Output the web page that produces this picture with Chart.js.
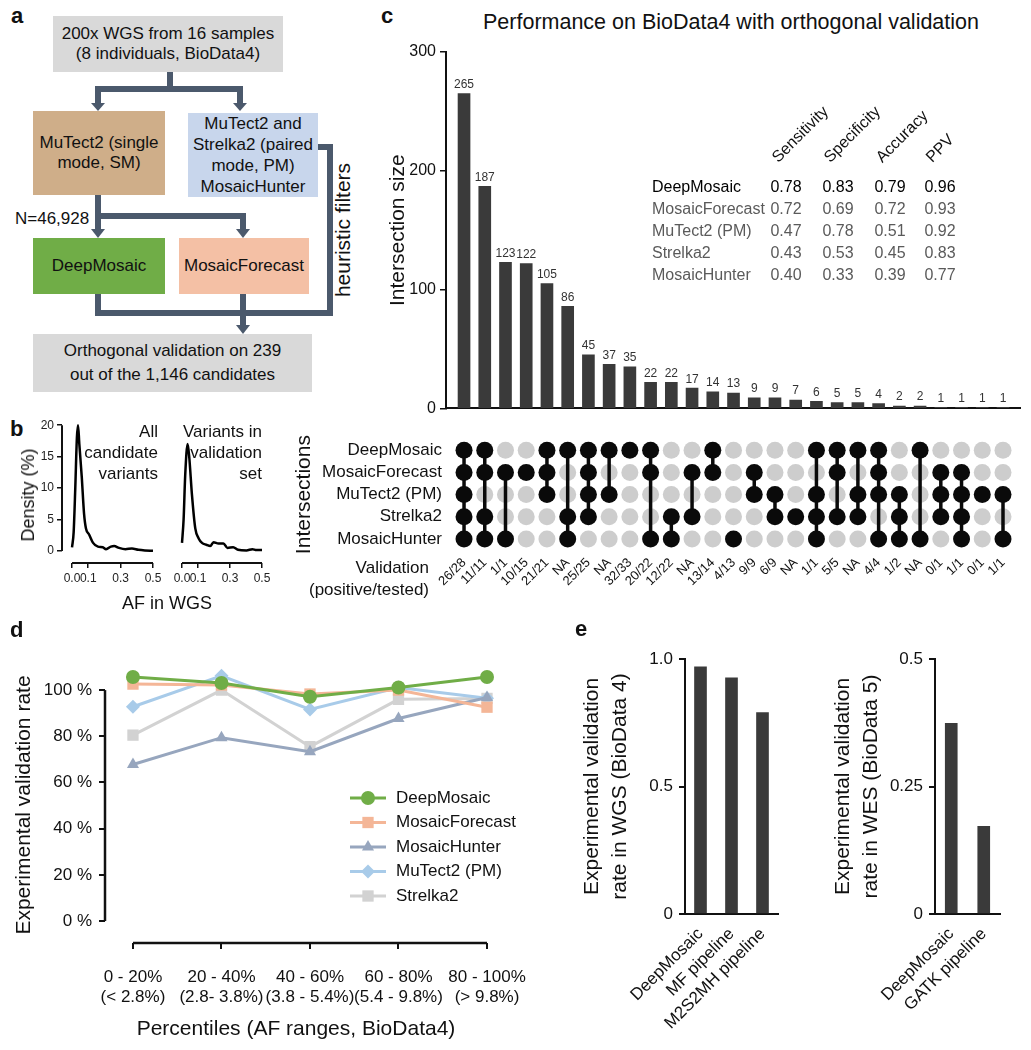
<!DOCTYPE html>
<html>
<head>
<meta charset="utf-8">
<script src="https://cdn.jsdelivr.net/npm/chart.js@4.4.1/dist/chart.umd.min.js"></script>
<style>
body { margin: 0; background: #fff; }
#page { position: relative; width: 1031px; height: 1050px; overflow: hidden; font-family: 'Liberation Sans', Arial, sans-serif; color: #111; }
canvas, .abs { position: absolute; }
.lbl { position: absolute; font-weight: bold; font-size: 22px; line-height: 22px; }
.box { position: absolute; display: flex; align-items: center; justify-content: center; text-align: center; font-size: 17px; line-height: 20px; }
.txt { position: absolute; white-space: nowrap; }
.mhead { position: absolute; white-space: nowrap; font-size: 16px; line-height: 18px; transform-origin: 0 100%; transform: rotate(-45deg); }
.mcell { position: absolute; white-space: nowrap; font-size: 16px; line-height: 20px; }
</style>
</head>
<body>
<div id="page">

  <!-- a: workflow -->
  <div class="lbl" style="left:11px;top:5px">a</div>
  <svg class="abs" style="left:0;top:0" width="380" height="400">
    <g stroke="#4b596c" stroke-width="6" fill="none">
      <path d="M170 72 V92 M95 89 H243 M98 86 V104 M240 86 V104"/>
      <path d="M98 195 V230 M95 216 H246 M243 213 V230"/>
      <path d="M98 294 V316 M243 294 V326 M95 313 H333 M318 147 H333 M330 144 V316"/>
    </g>
    <g fill="#4b596c">
      <polygon points="91,103 105,103 98,111"/>
      <polygon points="233,103 247,103 240,111"/>
      <polygon points="91,229 105,229 98,238"/>
      <polygon points="236,229 250,229 243,238"/>
      <polygon points="236,325 250,325 243,334"/>
    </g>
  </svg>
  <div class="box" style="left:53px;top:16px;width:230px;height:56px;background:#d9d9d9">200x WGS from 16 samples<br>(8 individuals, BioData4)</div>
  <div class="box" style="left:33px;top:111px;width:132px;height:84px;background:#cfae89">MuTect2 (single<br>mode, SM)</div>
  <div class="box" style="left:188px;top:113px;width:130px;height:84px;background:#c8d6ec;line-height:21px">MuTect2 and<br>Strelka2 (paired<br>mode, PM)<br>MosaicHunter</div>
  <div class="txt" style="left:15px;top:208px;font-size:17px;line-height:22px">N=46,928</div>
  <div class="box" style="left:33px;top:238px;width:132px;height:56px;background:#70ad47">DeepMosaic</div>
  <div class="box" style="left:179px;top:238px;width:130px;height:56px;background:#f4c0a5">MosaicForecast</div>
  <div class="txt" style="left:343px;top:230px;font-size:21px;line-height:24px;transform:translate(-50%,-50%) rotate(-90deg)">heuristic filters</div>
  <div class="box" style="left:33px;top:334px;width:279px;height:58px;background:#d9d9d9;line-height:24px">Orthogonal validation on 239<br>out of the 1,146 candidates</div>

  <!-- b: AF density -->
  <div class="lbl" style="left:10px;top:418px">b</div>
  <canvas id="bAll" width="168" height="205" style="left:0;top:415px"></canvas>
  <canvas id="bVal" width="110" height="205" style="left:170px;top:415px"></canvas>
  <div class="txt" style="left:60px;top:421px;width:98px;text-align:right;font-size:17px;line-height:21px">All<br>candidate<br>variants</div>
  <div class="txt" style="left:150px;top:421px;width:112px;text-align:right;font-size:17px;line-height:21px">Variants in<br>validation<br>set</div>
  <div class="txt" style="left:28px;top:495px;font-size:18px;line-height:20px;transform:translate(-50%,-50%) rotate(-90deg)">Density (%)</div>
  <div class="txt" style="left:167px;top:603px;font-size:18px;line-height:20px;transform:translate(-50%,-50%)">AF in WGS</div>

  <!-- c: upset plot -->
  <div class="lbl" style="left:381px;top:5px">c</div>
  <div class="txt" style="left:483px;top:10px;font-size:21.5px;line-height:24px">Performance on BioData4 with orthogonal validation</div>
  <canvas id="cBars" width="651" height="392" style="left:380px;top:30px"></canvas>
  <canvas id="cMatrix" width="751" height="195" style="left:280px;top:425px"></canvas>
  <div id="metricTable" class="abs" style="left:0;top:0"></div>
  <div class="txt" style="left:280px;top:557px;width:149px;font-size:17px;line-height:22px;text-align:right">Validation<br>(positive/tested)</div>

  <!-- d: validation rate by AF percentile -->
  <div class="lbl" style="left:10px;top:619px">d</div>
  <canvas id="dRates" width="545" height="410" style="left:0;top:640px"></canvas>

  <!-- e: validation rate of pipelines -->
  <div class="lbl" style="left:575px;top:618px">e</div>
  <canvas id="eWgs" width="230" height="410" style="left:560px;top:640px"></canvas>
  <canvas id="eWes" width="221" height="410" style="left:810px;top:640px"></canvas>
</div>

<script>
// ---------- data ----------
const toolNames = ['DeepMosaic', 'MosaicForecast', 'MuTect2 (PM)', 'Strelka2', 'MosaicHunter'];
const intersectionSizes = [265, 187, 123, 122, 105, 86, 45, 37, 35, 22, 22, 17, 14, 13, 9, 9, 7, 6, 5, 5, 4, 2, 2, 1, 1, 1, 1];
// members of each intersection, as row index into toolNames
const intersectionMembers = [
  [0, 1, 2, 3, 4], [0, 1, 3, 4], [1, 4], [1], [0, 1, 2], [0, 3, 4], [0, 1, 2, 3], [0, 2], [0],
  [0, 1, 4], [3, 4], [1, 3], [0, 1], [4], [1, 2], [2, 3], [3], [0, 2, 3, 4], [0, 1, 3],
  [0, 2, 3], [0, 1, 2, 4], [2, 3, 4], [0, 4], [1, 2, 3], [1, 2, 3, 4], [2], [2, 4]
];
const validationCounts = ['26/28', '11/11', '1/1', '10/15', '21/21', 'NA', '25/25', 'NA', '32/33', '20/22', '12/22', 'NA', '13/14', '4/13', '9/9', '6/9', 'NA', '1/1', '5/5', 'NA', '4/4', '1/2', 'NA', '0/1', '1/1', '0/1', '1/1'];
const sizeTicks = [0, 100, 200, 300];

const metricNames = ['Sensitivity', 'Specificity', 'Accuracy', 'PPV'];
const sensitivity = [0.78, 0.72, 0.47, 0.43, 0.40];
const specificity = [0.83, 0.69, 0.78, 0.53, 0.33];
const accuracy = [0.79, 0.72, 0.51, 0.45, 0.39];
const ppv = [0.96, 0.93, 0.92, 0.83, 0.77];

const afAll = [0, 0.01, 0.02, 0.03, 0.037, 0.045, 0.06, 0.074, 0.086, 0.106, 0.13, 0.16, 0.19, 0.21, 0.24, 0.26, 0.29, 0.33, 0.37, 0.41, 0.45, 0.5];
const densityAll = [0.6, 3, 10, 18, 20, 17, 11.8, 6, 3.6, 2.6, 1.3, 0.7, 0.6, 0.3, 0.7, 0.8, 0.5, 0.3, 0.4, 0.2, 0.1, 0.05];
const afValidated = [0, 0.01, 0.02, 0.035, 0.045, 0.062, 0.083, 0.104, 0.125, 0.152, 0.177, 0.197, 0.228, 0.259, 0.284, 0.32, 0.35, 0.403, 0.44, 0.465, 0.5];
const densityValidated = [1.3, 5, 12, 17, 15, 9, 3.6, 2, 1.3, 1.0, 0.8, 1.4, 1.2, 1.2, 0.5, 0.6, 0.2, 0.1, 0.3, 0.15, 0.15];
const afTicks = [0, 0.1, 0.3, 0.5];
const densityTicks = [0, 5, 10, 15, 20];

const percentileBins = ['0 - 20%', '20 - 40%', '40 - 60%', '60 - 80%', '80 - 100%'];
const afRanges = ['(< 2.8%)', '(2.8- 3.8%)', '(3.8 - 5.4%)', '(5.4 - 9.8%)', '(> 9.8%)'];
const rateDeepMosaic = [105.7, 103.1, 97.1, 101.1, 105.7];
const rateMosaicForecast = [102.6, 102.2, 98.3, 100, 92.6];
const rateMosaicHunter = [67.8, 79.4, 73.3, 87.7, 96.8];
const rateMuTect2 = [92.8, 106.2, 91.6, 101.1, 96.5];
const rateStrelka2 = [80.5, 100, 75.5, 96, 96.4];
const rateTicks = [0, 20, 40, 60, 80, 100];

const wgsPipelines = ['DeepMosaic', 'MF pipeline', 'M2S2MH pipeline'];
const wgsRates = [0.969, 0.926, 0.79];
const wgsTicks = [0, 0.5, 1];
const wgsTickLabels = ['0', '0.5', '1.0'];
const wesPipelines = ['DeepMosaic', 'GATK pipeline'];
const wesRates = [0.374, 0.172];
const wesTicks = [0, 0.25, 0.5];
const wesTickLabels = ['0', '0.25', '0.5'];

// ---------- defaults ----------
Chart.defaults.font.family = "'Liberation Sans', Arial, sans-serif";
Chart.defaults.color = '#111';
Chart.defaults.animation = false;
Chart.defaults.responsive = false;
Chart.defaults.events = [];
Chart.defaults.plugins.legend.display = false;
Chart.defaults.plugins.tooltip.enabled = false;

const fixTicks = vals => scale => { scale.ticks = vals.map(v => ({ value: v })); };
const toXY = (xs, ys) => ys.map((y, i) => ({ x: xs[i], y: y }));
const tickGrid = { drawOnChartArea: false, tickLength: 6, color: '#111', lineWidth: 1.5 };
// shared column range for the upset bars and matrix
const colMin = -0.87, colMax = 26.82;

// axis lines drawn only over a value range (offset-style axes)
const axisLines = {
  id: 'axisLines',
  beforeDatasetsDraw(chart, args, opts) {
    const ctx = chart.ctx, area = chart.chartArea;
    ctx.save();
    ctx.strokeStyle = '#111';
    ctx.lineWidth = opts.width || 2;
    (opts.lines || []).forEach(l => {
      const s = chart.scales[l.scale];
      const a = s.getPixelForValue(l.from), b = s.getPixelForValue(l.to);
      ctx.beginPath();
      if (s.isHorizontal()) { ctx.moveTo(a, area.bottom); ctx.lineTo(b, area.bottom); }
      else { ctx.moveTo(area.left, a); ctx.lineTo(area.left, b); }
      ctx.stroke();
    });
    ctx.restore();
  }
};

// value above each bar
const barValues = {
  id: 'barValues',
  afterDatasetsDraw(chart) {
    const ctx = chart.ctx;
    const ds = chart.data.datasets[0];
    ctx.save();
    ctx.font = "12px 'Liberation Sans', Arial, sans-serif";
    ctx.fillStyle = '#333';
    ctx.textAlign = 'center';
    ctx.textBaseline = 'bottom';
    chart.getDatasetMeta(0).data.forEach((bar, i) => {
      ctx.fillText(String(ds.data[i].y), bar.x, bar.y - 3);
    });
    ctx.restore();
  }
};

// legend with a line and marker, like the original
const lineLegend = {
  id: 'lineLegend',
  afterDraw(chart, args, opts) {
    const ctx = chart.ctx;
    chart.data.datasets.forEach((ds, i) => {
      const y = opts.y + i * opts.gap;
      ctx.save();
      ctx.strokeStyle = ds.borderColor;
      ctx.fillStyle = ds.borderColor;
      ctx.lineWidth = ds.borderWidth;
      ctx.beginPath();
      ctx.moveTo(opts.x, y);
      ctx.lineTo(opts.x + opts.len, y);
      ctx.stroke();
      Chart.helpers.drawPoint(ctx, { pointStyle: ds.pointStyle, radius: ds.pointRadius, borderWidth: 0, rotation: 0 }, opts.x + opts.len / 2, y);
      ctx.fillStyle = '#111';
      ctx.font = "17px 'Liberation Sans', Arial, sans-serif";
      ctx.textBaseline = 'middle';
      ctx.fillText(ds.label, opts.x + opts.len + 10, y);
      ctx.restore();
    });
  }
};

// ---------- b: density plots ----------
function densityChart(id, xs, ys, showY, pad) {
  return new Chart(document.getElementById(id), {
    type: 'line',
    data: { datasets: [{ data: toXY(xs, ys), borderColor: '#000', borderWidth: 2.5, pointRadius: 0, cubicInterpolationMode: 'monotone', clip: false }] },
    plugins: [axisLines],
    options: {
      layout: { padding: pad },
      plugins: { axisLines: { lines: showY ? [{ scale: 'x', from: 0, to: 0.5 }, { scale: 'y', from: 0, to: 20 }] : [{ scale: 'x', from: 0, to: 0.5 }] } },
      scales: {
        x: {
          type: 'linear', min: showY ? -0.062 : 0, max: 0.5,
          afterBuildTicks: fixTicks(afTicks),
          ticks: { font: { size: 12 }, padding: 3, color: '#222', maxRotation: 0, callback: v => v.toFixed(1) },
          grid: { drawOnChartArea: false, tickLength: 5, color: '#111', lineWidth: 1.5 },
          border: { display: false },
          afterFit: s => { s.height = 57; }
        },
        y: {
          display: showY, min: -1.9, max: 20,
          afterBuildTicks: fixTicks(densityTicks),
          ticks: { font: { size: 12 }, padding: 3, color: '#222' },
          grid: { drawOnChartArea: false, tickLength: 5, color: '#111', lineWidth: 1.5 },
          border: { display: false },
          afterFit: s => { s.width = showY ? 62 : 0; }
        }
      }
    }
  });
}
densityChart('bAll', afAll, densityAll, true, { top: 10, right: 15, bottom: 0, left: 0 });
densityChart('bVal', afValidated, densityValidated, false, { top: 10, right: 18, bottom: 0, left: 12 });

// ---------- c: intersection sizes ----------
new Chart(document.getElementById('cBars'), {
  type: 'bar',
  data: { datasets: [{ data: intersectionSizes.map((v, i) => ({ x: i, y: v })), backgroundColor: '#3a3a3a', barThickness: 12 }] },
  plugins: [barValues],
  options: {
    layout: { padding: { top: 22, right: 11, bottom: 13, left: 0 } },
    scales: {
      x: {
        type: 'linear', min: colMin, max: colMax, offset: false,
        ticks: { display: false }, grid: { display: false },
        border: { color: '#111', width: 2 },
        afterFit: s => { s.height = 0; }
      },
      y: {
        min: 0, max: 300,
        afterBuildTicks: fixTicks(sizeTicks),
        ticks: { font: { size: 16 }, padding: 4 },
        grid: tickGrid,
        border: { color: '#111', width: 2 },
        title: { display: true, text: 'Intersection size', font: { size: 21 }, padding: { top: 6 } },
        afterFit: s => { s.width = 66; }
      }
    }
  }
});

// ---------- c: membership matrix ----------
const grayDots = [], blackDots = [], links = [];
intersectionMembers.forEach((rows, col) => {
  toolNames.forEach((_, r) => (rows.includes(r) ? blackDots : grayDots).push({ x: col, y: r }));
  if (rows.length > 1) {
    links.push({ x: col, y: Math.min(...rows) }, { x: col, y: Math.max(...rows) }, { x: col, y: null });
  }
});
new Chart(document.getElementById('cMatrix'), {
  type: 'line',
  data: {
    datasets: [
      { data: blackDots, showLine: false, pointRadius: 8.5, pointBackgroundColor: '#0a0a0a', pointBorderWidth: 0, order: 0, clip: false },
      { data: links, borderColor: '#0a0a0a', borderWidth: 3.5, pointRadius: 0, spanGaps: false, order: 1 },
      { data: grayDots, showLine: false, pointRadius: 8.5, pointBackgroundColor: '#cdcdcd', pointBorderWidth: 0, order: 2, clip: false }
    ]
  },
  options: {
    layout: { padding: { top: 10, right: 11, bottom: 0, left: 0 } },
    scales: {
      x: {
        type: 'linear', min: colMin, max: colMax,
        afterBuildTicks: fixTicks(validationCounts.map((_, i) => i)),
        ticks: { autoSkip: false, minRotation: 45, maxRotation: 45, font: { size: 13 }, padding: 5, callback: v => validationCounts[v] },
        grid: { display: false, drawTicks: false }, border: { display: false },
        afterFit: s => { s.height = 70; }
      },
      y: {
        type: 'linear', reverse: true, min: -0.5, max: 4.5,
        afterBuildTicks: fixTicks(toolNames.map((_, i) => i)),
        ticks: { autoSkip: false, font: { size: 17 }, padding: 4, callback: v => toolNames[v] },
        grid: { display: false, drawTicks: false }, border: { display: false },
        title: { display: true, text: 'Intersections', font: { size: 21 }, padding: { top: 12 } },
        afterFit: s => { s.width = 166; }
      }
    }
  }
});

// ---------- c: performance table ----------
const table = document.getElementById('metricTable');
const metricCols = [sensitivity, specificity, accuracy, ppv];
const colX = [786, 838, 890, 940];
metricNames.forEach((name, j) => {
  const d = document.createElement('div');
  d.className = 'mhead';
  d.textContent = name;
  d.style.left = (colX[j] - 5) + 'px';
  d.style.top = (166 - 18) + 'px';
  table.appendChild(d);
});
toolNames.forEach((tool, i) => {
  const colour = i === 0 ? '#000' : '#5a5a5a';
  const y = 177 + i * 22;
  const name = document.createElement('div');
  name.className = 'mcell';
  name.textContent = tool;
  name.style.left = '652px';
  name.style.top = y + 'px';
  name.style.color = colour;
  table.appendChild(name);
  metricCols.forEach((vals, j) => {
    const c = document.createElement('div');
    c.className = 'mcell';
    c.textContent = vals[i].toFixed(2);
    c.style.left = colX[j] + 'px';
    c.style.top = y + 'px';
    c.style.color = colour;
    c.style.transform = 'translateX(-50%)';
    table.appendChild(c);
  });
});

// ---------- d: validation rate per AF percentile ----------
function rateSeries(label, values, colour, style, radius) {
  return {
    label: label, data: values.map((v, i) => ({ x: i, y: v })),
    borderColor: colour, backgroundColor: colour, pointBackgroundColor: colour, pointBorderWidth: 0,
    borderWidth: 3, pointStyle: style, pointRadius: radius, clip: false
  };
}
new Chart(document.getElementById('dRates'), {
  type: 'line',
  data: {
    datasets: [
      rateSeries('DeepMosaic', rateDeepMosaic, '#70ad47', 'circle', 7),
      rateSeries('MosaicForecast', rateMosaicForecast, '#f4b697', 'rect', 8),
      rateSeries('MosaicHunter', rateMosaicHunter, '#97a6be', 'triangle', 7),
      rateSeries('MuTect2 (PM)', rateMuTect2, '#a8cbe9', 'rectRot', 7),
      rateSeries('Strelka2', rateStrelka2, '#d2d2d2', 'rect', 8)
    ]
  },
  plugins: [axisLines, lineLegend],
  options: {
    layout: { padding: { top: 27, right: 58, bottom: 0, left: 0 } },
    plugins: {
      axisLines: { width: 2.5, lines: [{ scale: 'x', from: 0, to: 4 }, { scale: 'y', from: 0, to: 100 }] },
      lineLegend: { x: 350, y: 158, gap: 24.5, len: 36 }
    },
    scales: {
      x: {
        type: 'linear', min: -0.316, max: 4,
        afterBuildTicks: fixTicks(percentileBins.map((_, i) => i)),
        ticks: { font: { size: 17 }, padding: 18, maxRotation: 0, autoSkip: false, callback: v => [percentileBins[v], afRanges[v]] },
        grid: { drawOnChartArea: false, tickLength: 6, color: '#111', lineWidth: 2 },
        border: { display: false },
        title: { display: true, text: 'Percentiles (AF ranges, BioData4)', font: { size: 21 }, padding: { top: 0, bottom: 8 } },
        afterFit: s => { s.height = 107; }
      },
      y: {
        min: -9.5, max: 110,
        afterBuildTicks: fixTicks(rateTicks),
        ticks: { font: { size: 17 }, padding: 7, callback: v => v + ' %' },
        grid: { drawOnChartArea: false, tickLength: 6, color: '#111', lineWidth: 2 },
        border: { display: false },
        title: { display: true, text: 'Experimental validation rate', font: { size: 21 }, padding: { top: 12 } },
        afterFit: s => { s.width = 105; }
      }
    }
  }
});

// ---------- e: pipeline validation rates ----------
function pipelineChart(id, labels, values, ticks, tickLabels, title, padRight, titlePad) {
  return new Chart(document.getElementById(id), {
    type: 'bar',
    data: { labels: labels, datasets: [{ data: values, backgroundColor: '#3a3a3a', barThickness: 12 }] },
    options: {
      layout: { padding: { top: 19, right: padRight, bottom: 0, left: 0 } },
      scales: {
        x: {
          ticks: { minRotation: 45, maxRotation: 45, font: { size: 17 }, padding: 2, autoSkip: false },
          grid: { display: false },
          border: { color: '#111', width: 2 },
          afterFit: s => { s.height = 136; }
        },
        y: {
          min: 0, max: ticks[ticks.length - 1],
          afterBuildTicks: fixTicks(ticks),
          ticks: { font: { size: 17 }, padding: 6, callback: (v, i) => tickLabels[i] },
          grid: { drawOnChartArea: false, tickLength: 6, color: '#111', lineWidth: 2 },
          border: { color: '#111', width: 2 },
          title: { display: true, text: title, font: { size: 21, lineHeight: 1.35 }, padding: { top: titlePad } },
          afterFit: s => { s.width = 125; }
        }
      }
    }
  });
}
pipelineChart('eWgs', wgsPipelines, wgsRates, wgsTicks, wgsTickLabels, ['Experimental validation', 'rate in WGS (BioData 4)'], 12, 18);
pipelineChart('eWes', wesPipelines, wesRates, wesTicks, wesTickLabels, ['Experimental validation', 'rate in WES (BioData 5)'], 31, 19);
</script>
</body>
</html>
